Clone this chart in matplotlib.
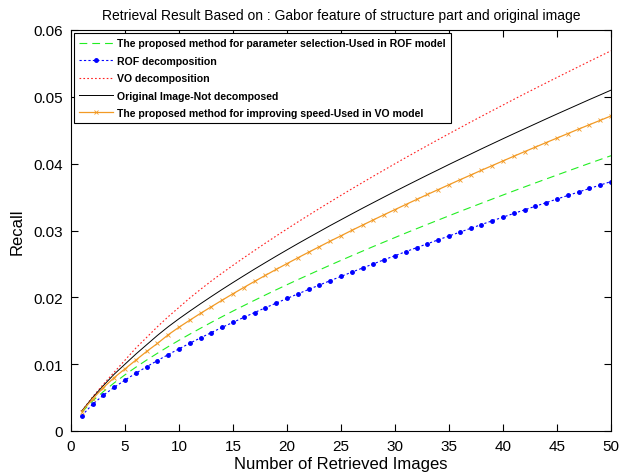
import matplotlib
matplotlib.use("Agg")
import matplotlib.pyplot as plt

plt.rcParams['font.family'] = ['Liberation Sans', 'DejaVu Sans']

n_images = list(range(1, 51))

# recall of each method at 1..50 retrieved images
recall_param_rof = [0.0028, 0.0045, 0.0059, 0.0072, 0.00841, 0.00954, 0.01061, 0.01163, 0.01262, 0.01357,
                    0.01449, 0.01538, 0.01626, 0.01711, 0.01795, 0.01876, 0.01956, 0.02035, 0.02113, 0.02189,
                    0.02264, 0.02337, 0.02410, 0.02482, 0.02553, 0.02623, 0.02692, 0.02761, 0.02828, 0.02895,
                    0.02962, 0.03027, 0.03092, 0.03156, 0.03220, 0.03284, 0.03346, 0.03408, 0.03470, 0.03531,
                    0.03592, 0.03652, 0.03712, 0.03771, 0.03830, 0.03889, 0.03947, 0.04005, 0.04062, 0.04119]

recall_rof = [0.0023, 0.0040, 0.00536, 0.00653, 0.00762, 0.00864, 0.00961, 0.01054, 0.01143, 0.01229,
              0.01313, 0.01394, 0.01473, 0.01551, 0.01626, 0.01700, 0.01773, 0.01844, 0.01914, 0.01983,
              0.02051, 0.02118, 0.02184, 0.02249, 0.02313, 0.02377, 0.02439, 0.02501, 0.02563, 0.02623,
              0.02684, 0.02743, 0.02802, 0.02860, 0.02918, 0.02975, 0.03032, 0.03089, 0.03145, 0.03200,
              0.03255, 0.03309, 0.03363, 0.03417, 0.03471, 0.03524, 0.03576, 0.03629, 0.03680, 0.03732]

recall_vo = [0.0030, 0.0051, 0.0070, 0.0088, 0.0106, 0.0124, 0.0140, 0.0156, 0.0171, 0.0185,
             0.0199, 0.0212, 0.02245, 0.02364, 0.02479, 0.02592, 0.02702, 0.02811, 0.02918, 0.03023,
             0.03127, 0.03228, 0.03329, 0.03428, 0.03526, 0.03623, 0.03718, 0.03813, 0.03906, 0.03999,
             0.04091, 0.04181, 0.04271, 0.04360, 0.04448, 0.04535, 0.04622, 0.04708, 0.04793, 0.04877,
             0.04962, 0.05045, 0.05127, 0.05209, 0.05290, 0.05371, 0.05451, 0.05531, 0.05610, 0.05689]

recall_original = [0.0030, 0.0050, 0.0068, 0.0085, 0.0100, 0.0115, 0.0129, 0.0143, 0.0156, 0.0168,
                   0.01794, 0.01905, 0.02013, 0.02119, 0.02222, 0.02323, 0.02423, 0.02520, 0.02616, 0.02710,
                   0.02803, 0.02894, 0.02984, 0.03074, 0.03161, 0.03248, 0.03334, 0.03418, 0.03502, 0.03585,
                   0.03667, 0.03748, 0.03829, 0.03908, 0.03988, 0.04066, 0.04143, 0.04221, 0.04297, 0.04373,
                   0.04448, 0.04522, 0.04596, 0.04670, 0.04743, 0.04815, 0.04887, 0.04959, 0.05029, 0.05100]

recall_speed_vo = [0.0029, 0.0048, 0.0065, 0.0080, 0.0093, 0.0106, 0.0119, 0.0131, 0.0144, 0.01553,
                   0.01658, 0.01761, 0.01860, 0.01958, 0.02054, 0.02147, 0.02239, 0.02329, 0.02418, 0.02505,
                   0.02591, 0.02675, 0.02758, 0.02841, 0.02921, 0.03002, 0.03081, 0.03159, 0.03237, 0.03313,
                   0.03389, 0.03464, 0.03539, 0.03612, 0.03685, 0.03758, 0.03829, 0.03901, 0.03971, 0.04041,
                   0.04111, 0.04180, 0.04248, 0.04316, 0.04383, 0.04450, 0.04517, 0.04583, 0.04648, 0.04714]

labels = ['The proposed method for parameter selection-Used in ROF model',
          'ROF decomposition',
          'VO decomposition',
          'Original Image-Not decomposed',
          'The proposed method for improving speed-Used in VO model']

xticks = [0, 5, 10, 15, 20, 25, 30, 35, 40, 45, 50]
yticks = [0, 0.01, 0.02, 0.03, 0.04, 0.05, 0.06]
ytick_labels = ['0', '0.01', '0.02', '0.03', '0.04', '0.05', '0.06']

fig = plt.figure(figsize=(6.31, 4.77), dpi=100)
ax = fig.add_axes([71 / 631, 45 / 477, 540 / 631, 401 / 477])

ax.plot(n_images, recall_param_rof, color='#22ee22', lw=0.8, linestyle=(0, (7, 4.5)), label=labels[0])
ax.plot(n_images, recall_rof, color='#0000ff', lw=0.8, linestyle=(0, (2, 2)),
        marker='.', markersize=5, label=labels[1])
ax.plot(n_images, recall_vo, color='#ff2020', lw=0.8, linestyle=(0, (1.5, 2)), label=labels[2])
ax.plot(n_images, recall_original, color='black', lw=0.7, label=labels[3])
ax.plot(n_images, recall_speed_vo, color='#f29a25', lw=0.9, marker='x', markersize=3.5,
        markeredgewidth=0.6, label=labels[4])

ax.set_xlim(0, 50)
ax.set_ylim(0, 0.06)
ax.set_xticks(xticks)
ax.set_yticks(yticks)
ax.set_yticklabels(ytick_labels)
ax.tick_params(direction='in', top=True, right=True, length=5, width=0.8, labelsize=11, pad=6)
for sp in ax.spines.values():
    sp.set_linewidth(0.8)

ax.set_title('Retrieval Result Based on : Gabor feature of structure part and original image',
             fontsize=10, pad=8)
ax.set_xlabel('Number of Retrieved Images', fontsize=12, labelpad=2)
ax.set_ylabel('Recall', fontsize=12, labelpad=6)

leg = ax.legend(loc='upper left', prop={'size': 7.6, 'weight': 'bold'}, fancybox=False,
                edgecolor='black', framealpha=1, handlelength=3.2, handletextpad=0.4,
                borderaxespad=0.3, labelspacing=0.7, borderpad=0.5)
leg.get_frame().set_linewidth(0.8)

fig.savefig('out.png', dpi=100)
